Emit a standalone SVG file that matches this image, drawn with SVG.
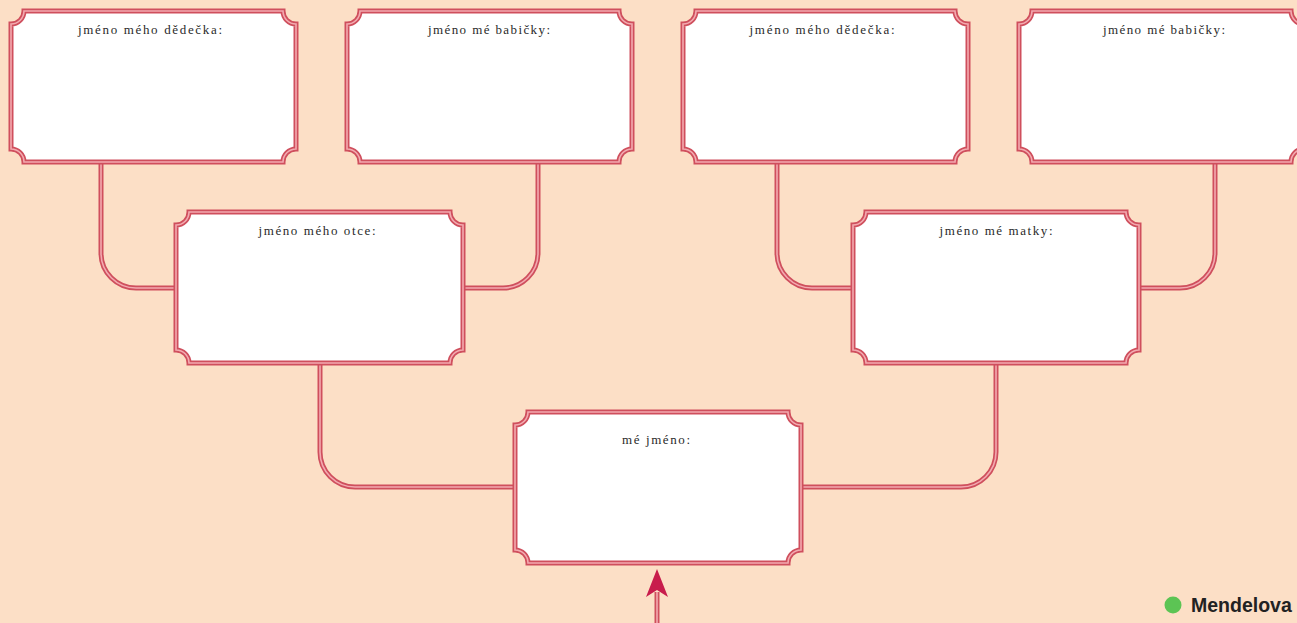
<svg xmlns="http://www.w3.org/2000/svg" width="1297" height="623" viewBox="0 0 1297 623">
<defs>
<style>
.bg{fill:#fcdfc6}
.frame{fill:#ffffff;stroke:#cf4f5d;stroke-width:5}
.frame-in{fill:none;stroke:#f3aab0;stroke-width:1.6}
.con{fill:none;stroke:#cf4f5d;stroke-width:5}
.con-in{fill:none;stroke:#f3aab0;stroke-width:1.6}
.lbl{font-family:"Liberation Serif","DejaVu Serif",serif;font-size:13px;fill:#2a2a2a;text-anchor:middle}
</style>
</defs>
<rect class="bg" x="0" y="0" width="1297" height="623"/>
<g id="connectors">
<path class="con" d="M101,163 V253 A35,35 0 0 0 136,288 H175"/>
<path class="con-in" d="M101,163 V253 A35,35 0 0 0 136,288 H175"/>
<path class="con" d="M538,163 V253 A35,35 0 0 1 503,288 H464"/>
<path class="con-in" d="M538,163 V253 A35,35 0 0 1 503,288 H464"/>
<path class="con" d="M777,163 V253 A35,35 0 0 0 812,288 H852"/>
<path class="con-in" d="M777,163 V253 A35,35 0 0 0 812,288 H852"/>
<path class="con" d="M1215,163 V253 A35,35 0 0 1 1180,288 H1140"/>
<path class="con-in" d="M1215,163 V253 A35,35 0 0 1 1180,288 H1140"/>
<path class="con" d="M320,364 V452 A35,35 0 0 0 355,487 H514"/>
<path class="con-in" d="M320,364 V452 A35,35 0 0 0 355,487 H514"/>
<path class="con" d="M996,364 V452 A35,35 0 0 1 961,487 H802"/>
<path class="con-in" d="M996,364 V452 A35,35 0 0 1 961,487 H802"/>
<path class="con" d="M657,592 V623"/>
<path class="con-in" d="M657,592 V623"/>
<polygon points="657,569 646,597 657,590 668,597" fill="#c81c4c"/>
</g>
<g id="grandfather-paternal">
<path class="frame" d="M24,11 H283 A13,13 0 0 0 296,24 V149 A13,13 0 0 0 283,162 H24 A13,13 0 0 0 11,149 V24 A13,13 0 0 0 24,11 Z"/>
<path class="frame-in" d="M24,11 H283 A13,13 0 0 0 296,24 V149 A13,13 0 0 0 283,162 H24 A13,13 0 0 0 11,149 V24 A13,13 0 0 0 24,11 Z"/>
<text class="lbl" x="150" y="34" textLength="144" lengthAdjust="spacing">jméno mého dědečka:</text>
</g>
<g id="grandmother-paternal">
<path class="frame" d="M360,11 H619 A13,13 0 0 0 632,24 V149 A13,13 0 0 0 619,162 H360 A13,13 0 0 0 347,149 V24 A13,13 0 0 0 360,11 Z"/>
<path class="frame-in" d="M360,11 H619 A13,13 0 0 0 632,24 V149 A13,13 0 0 0 619,162 H360 A13,13 0 0 0 347,149 V24 A13,13 0 0 0 360,11 Z"/>
<text class="lbl" x="489" y="34" textLength="122" lengthAdjust="spacing">jméno mé babičky:</text>
</g>
<g id="grandfather-maternal">
<path class="frame" d="M696,11 H955 A13,13 0 0 0 968,24 V149 A13,13 0 0 0 955,162 H696 A13,13 0 0 0 683,149 V24 A13,13 0 0 0 696,11 Z"/>
<path class="frame-in" d="M696,11 H955 A13,13 0 0 0 968,24 V149 A13,13 0 0 0 955,162 H696 A13,13 0 0 0 683,149 V24 A13,13 0 0 0 696,11 Z"/>
<text class="lbl" x="822" y="34" textLength="145" lengthAdjust="spacing">jméno mého dědečka:</text>
</g>
<g id="grandmother-maternal">
<path class="frame" d="M1032,11 H1291 A13,13 0 0 0 1304,24 V149 A13,13 0 0 0 1291,162 H1032 A13,13 0 0 0 1019,149 V24 A13,13 0 0 0 1032,11 Z"/>
<path class="frame-in" d="M1032,11 H1291 A13,13 0 0 0 1304,24 V149 A13,13 0 0 0 1291,162 H1032 A13,13 0 0 0 1019,149 V24 A13,13 0 0 0 1032,11 Z"/>
<text class="lbl" x="1164" y="34" textLength="122" lengthAdjust="spacing">jméno mé babičky:</text>
</g>
<g id="father">
<path class="frame" d="M189,212 H450 A13,13 0 0 0 463,225 V350 A13,13 0 0 0 450,363 H189 A13,13 0 0 0 176,350 V225 A13,13 0 0 0 189,212 Z"/>
<path class="frame-in" d="M189,212 H450 A13,13 0 0 0 463,225 V350 A13,13 0 0 0 450,363 H189 A13,13 0 0 0 176,350 V225 A13,13 0 0 0 189,212 Z"/>
<text class="lbl" x="317" y="235" textLength="117" lengthAdjust="spacing">jméno mého otce:</text>
</g>
<g id="mother">
<path class="frame" d="M866,212 H1126 A13,13 0 0 0 1139,225 V350 A13,13 0 0 0 1126,363 H866 A13,13 0 0 0 853,350 V225 A13,13 0 0 0 866,212 Z"/>
<path class="frame-in" d="M866,212 H1126 A13,13 0 0 0 1139,225 V350 A13,13 0 0 0 1126,363 H866 A13,13 0 0 0 853,350 V225 A13,13 0 0 0 866,212 Z"/>
<text class="lbl" x="996" y="235" textLength="113" lengthAdjust="spacing">jméno mé matky:</text>
</g>
<g id="me">
<path class="frame" d="M528,412 H788 A13,13 0 0 0 801,425 V550 A13,13 0 0 0 788,563 H528 A13,13 0 0 0 515,550 V425 A13,13 0 0 0 528,412 Z"/>
<path class="frame-in" d="M528,412 H788 A13,13 0 0 0 801,425 V550 A13,13 0 0 0 788,563 H528 A13,13 0 0 0 515,550 V425 A13,13 0 0 0 528,412 Z"/>
<text class="lbl" x="656" y="444" textLength="68" lengthAdjust="spacing">mé jméno:</text>
</g>
<g id="logo">
<circle cx="1173" cy="605" r="8.5" fill="#5cc454"/>
<text x="1191" y="612" font-family="'Liberation Sans','DejaVu Sans',sans-serif" font-size="19.5" font-weight="bold" fill="#222222">Mendelova</text>
</g>
</svg>
